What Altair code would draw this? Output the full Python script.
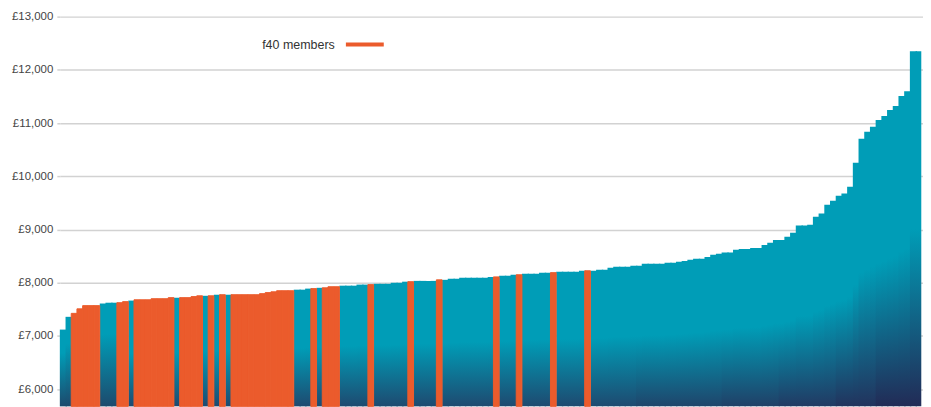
import altair as alt
import pandas as pd

# Funding per pupil, sorted ascending (one bar per local authority)
values = [
    7120, 7360, 7425, 7510, 7570, 7570, 7570, 7610, 7625, 7625,
    7625, 7645, 7665, 7680, 7680, 7680, 7700, 7700, 7700, 7720,
    7720, 7720, 7720, 7740, 7755, 7755, 7755, 7775, 7775, 7775,
    7775, 7775, 7775, 7775, 7775, 7795, 7815, 7830, 7850, 7850,
    7850, 7870, 7870, 7890, 7890, 7905, 7905, 7925, 7925, 7945,
    7945, 7945, 7965, 7965, 7965, 7980, 7980, 7980, 8000, 8000,
    8020, 8020, 8035, 8035, 8035, 8035, 8055, 8055, 8075, 8075,
    8095, 8095, 8095, 8095, 8095, 8110, 8110, 8130, 8130, 8150,
    8150, 8170, 8170, 8170, 8190, 8190, 8190, 8205, 8205, 8205,
    8205, 8225, 8225, 8225, 8245, 8245, 8280, 8300, 8300, 8300,
    8320, 8320, 8355, 8355, 8355, 8355, 8375, 8375, 8395, 8410,
    8430, 8450, 8450, 8485, 8525, 8545, 8570, 8570, 8620, 8635,
    8635, 8655, 8655, 8710, 8750, 8805, 8805, 8865, 8940, 9075,
    9075, 9090, 9240, 9300, 9465, 9540, 9635, 9675, 9805, 10255,
    10705, 10835, 10930, 11060, 11135, 11245, 11320, 11510, 11600, 12350,
    12350,
]

# Positions (in sorted order) of the f40 member authorities
f40_members = [2, 3, 4, 5, 6, 10, 11, 13, 14, 15, 16, 17, 18, 19, 21, 22, 23, 24,
               26, 28, 30, 31, 32, 33, 34, 35, 36, 37, 38, 39, 40, 44, 46, 47, 48,
               54, 61, 66, 76, 80, 86, 92]

y_ticks = [6000, 7000, 8000, 9000, 10000, 11000, 12000, 13000]
legend_label = ["f40 members"]

TEAL = "#009db7"
ORANGE = "#eb5b2c"
GRID = "#d2d2d2"
FONT = "Liberation Sans"

# shading bands for the non-member bars: (first, last, teal stop, bottom colour)
shade_bands = [
    (0, 9, 0.3, "#1d4a6d"),
    (10, 100, 0.5, "#1e4a70"),
    (101, 115, 0.5, "#1f456b"),
    (116, 125, 0.5, "#204067"),
    (126, 135, 0.5, "#213a63"),
    (136, 142, 0.5, "#22335d"),
    (143, 150, 0.5, "#222b56"),
]

N = len(values)
df = pd.DataFrame({"idx": list(range(N)), "value": values})
df["member"] = df["idx"].isin(f40_members)

Y_MIN, Y_MAX = 5678, 13000
y_scale = alt.Scale(domain=[Y_MIN, Y_MAX], nice=False, zero=False)
x_scale = alt.Scale(domain=[0, N + 0.3], nice=False, zero=False)

y_axis = alt.Axis(
    values=y_ticks,
    labelExpr="'£' + format(datum.value, ',')",
    title=None,
    domain=False,
    grid=True,
    gridColor=GRID,
    gridWidth=1.5,
    tickSize=3,
    tickColor=GRID,
    tickWidth=1.5,
    labelPadding=4,
    labelFont=FONT,
    labelFontSize=11.5,
    labelColor="#444444",
)


def enc(chart, overlap):
    return chart.transform_calculate(
        end=f"min(datum.idx + 1 + {overlap}, {N})"
    ).encode(
        x=alt.X("idx:Q", scale=x_scale, axis=None),
        x2="end:Q",
        y=alt.Y("value:Q", scale=y_scale, axis=y_axis),
        y2=alt.datum(Y_MIN),
    )


def teal_layer(lo, hi, stop, dark):
    grad = alt.Gradient(
        gradient="linear", x1=0, x2=0, y1=0, y2=1,
        stops=[
            alt.GradientStop(offset=0, color=TEAL),
            alt.GradientStop(offset=stop, color=TEAL),
            alt.GradientStop(offset=1, color=dark),
        ],
    )
    return enc(
        alt.Chart(df).transform_filter(
            f"!datum.member && datum.idx >= {lo} && datum.idx <= {hi}"
        ).mark_bar(color=grad, strokeWidth=0),
        0.25,
    )


layers = [teal_layer(*b) for b in shade_bands]
layers.append(
    enc(
        alt.Chart(df).transform_filter("datum.member").mark_bar(
            color=ORANGE, stroke=ORANGE, strokeWidth=1
        ),
        0,
    )
)

leg_df = pd.DataFrame({"label": legend_label})
legend_text = alt.Chart(leg_df).mark_text(
    align="left", baseline="middle", font=FONT, fontSize=12.5, color="#333333"
).encode(text="label:N", x=alt.value(203), y=alt.value(28))
legend_swatch = alt.Chart(leg_df).mark_rule(color=ORANGE, strokeWidth=4).encode(
    x=alt.value(287), x2=alt.value(325), y=alt.value(28)
)

chart = alt.layer(*layers, legend_text, legend_swatch).properties(
    width=866,
    height=391,
    autosize=alt.AutoSizeParams(type="none"),
    padding={"left": 52, "top": 8, "right": 0, "bottom": 0},
).configure_view(stroke=None)

chart.save("out.html", embed_options={"renderer": "svg", "actions": False})
